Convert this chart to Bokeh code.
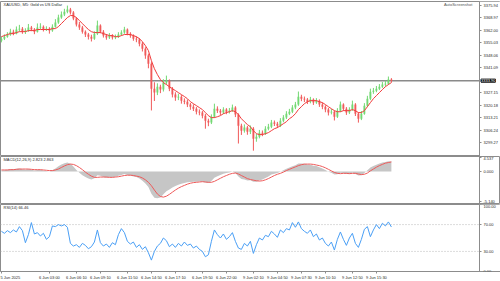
from bokeh.plotting import figure
from bokeh.layouts import column
from bokeh.models import (Range1d, FixedTicker, Label, Span, ColumnDataSource,
                          NumeralTickFormatter, BoxAnnotation)
from bokeh.embed import file_html
from bokeh.resources import INLINE

# ---------------- data ----------------
opens = [
    3356.2, 3357.4, 3358.5, 3359.7, 3361.3, 3360.2, 3362.5, 3363.0, 3361.3, 3361.9,
    3363.6, 3362.5, 3361.3, 3363.6, 3364.1, 3362.5, 3363.0, 3361.9, 3364.1, 3366.4,
    3369.2, 3370.9, 3372.5, 3373.7, 3372.0, 3368.6, 3365.3, 3363.6, 3361.3, 3359.7,
    3358.5, 3357.4, 3360.2, 3364.7, 3361.3, 3359.1, 3358.0, 3359.1, 3358.0, 3358.5,
    3359.7, 3360.8, 3362.5, 3360.2, 3359.1, 3357.4, 3356.9, 3354.6, 3351.8, 3347.9,
    3343.4, 3329.4, 3327.2, 3330.5, 3328.9, 3332.8, 3333.9, 3329.4, 3326.1, 3324.4,
    3324.9, 3322.7, 3322.1, 3320.5, 3319.3, 3318.2, 3316.5, 3316.0, 3314.3, 3311.5,
    3310.4, 3313.7, 3318.2, 3317.1, 3316.0, 3317.7, 3316.5, 3317.1, 3318.8, 3314.9,
    3308.7, 3305.9, 3307.6, 3305.3, 3307.0, 3301.4, 3302.5, 3304.8, 3304.2, 3307.0,
    3308.1, 3310.4, 3309.8, 3308.7, 3311.5, 3313.2, 3315.4, 3316.5, 3318.8, 3320.5,
    3324.9, 3323.8, 3323.3, 3322.1, 3323.3, 3321.6, 3322.7, 3320.5, 3319.3, 3317.7,
    3316.0, 3316.5, 3313.7, 3317.1, 3320.5, 3318.2, 3316.0, 3317.7, 3320.5, 3315.4,
    3312.6, 3315.4, 3319.9, 3323.8, 3327.7, 3328.3, 3329.4, 3330.5, 3331.7, 3332.2,
    3334.5,
]
closes = [
    3357.4, 3358.5, 3359.7, 3361.3, 3360.2, 3362.5, 3363.0, 3361.3, 3361.9, 3363.6,
    3362.5, 3361.3, 3363.6, 3364.1, 3362.5, 3363.0, 3361.9, 3364.1, 3366.4, 3369.2,
    3370.9, 3372.5, 3373.7, 3372.0, 3368.6, 3365.3, 3363.6, 3361.3, 3359.7, 3358.5,
    3357.4, 3360.2, 3364.7, 3361.3, 3359.1, 3358.0, 3359.1, 3358.0, 3358.5, 3359.7,
    3360.8, 3362.5, 3360.2, 3359.1, 3357.4, 3356.9, 3354.6, 3351.8, 3347.9, 3343.4,
    3329.4, 3327.2, 3330.5, 3328.9, 3332.8, 3333.9, 3329.4, 3326.1, 3324.4, 3324.9,
    3322.7, 3322.1, 3320.5, 3319.3, 3318.2, 3316.5, 3316.0, 3314.3, 3311.5, 3310.4,
    3313.7, 3318.2, 3317.1, 3316.0, 3317.7, 3316.5, 3317.1, 3318.8, 3314.9, 3308.7,
    3305.9, 3307.6, 3305.3, 3307.0, 3301.4, 3302.5, 3304.8, 3304.2, 3307.0, 3308.1,
    3310.4, 3309.8, 3308.7, 3311.5, 3313.2, 3315.4, 3316.5, 3318.8, 3320.5, 3324.9,
    3323.8, 3323.3, 3322.1, 3323.3, 3321.6, 3322.7, 3320.5, 3319.3, 3317.7, 3316.0,
    3316.5, 3313.7, 3317.1, 3320.5, 3318.2, 3316.0, 3317.7, 3320.5, 3315.4, 3312.6,
    3315.4, 3319.9, 3323.8, 3327.7, 3328.3, 3329.4, 3330.5, 3331.7, 3332.2, 3334.5,
    3333.9,
]
highs = [
    3358.6, 3359.8, 3361.0, 3362.9, 3362.4, 3364.2, 3365.1, 3363.9, 3363.2, 3365.6,
    3364.5, 3363.3, 3365.9, 3366.0, 3364.8, 3364.3, 3363.8, 3365.4, 3368.3, 3370.8,
    3372.6, 3374.1, 3375.9, 3374.6, 3372.8, 3369.4, 3366.7, 3364.5, 3362.0, 3360.6,
    3359.6, 3361.5, 3367.5, 3365.4, 3362.2, 3360.0, 3360.5, 3359.9, 3359.7, 3361.0,
    3362.1, 3364.0, 3363.1, 3361.0, 3359.8, 3358.6, 3357.7, 3355.5, 3352.6, 3349.0,
    3344.2, 3333.0, 3332.4, 3331.6, 3334.7, 3336.7, 3334.6, 3330.3, 3327.4, 3326.6,
    3325.8, 3324.0, 3323.3, 3321.4, 3320.6, 3319.1, 3317.8, 3316.9, 3315.2, 3312.6,
    3315.0, 3321.0, 3319.5, 3318.0, 3319.0, 3318.5, 3318.6, 3320.5, 3319.6, 3315.6,
    3309.8, 3309.4, 3308.5, 3308.8, 3307.9, 3304.0, 3306.3, 3306.0, 3308.4, 3309.7,
    3311.9, 3311.6, 3310.8, 3312.9, 3314.6, 3316.8, 3318.1, 3320.2, 3322.0, 3327.8,
    3326.0, 3325.0, 3324.2, 3324.8, 3324.0, 3324.1, 3323.4, 3321.6, 3320.1, 3318.6,
    3318.0, 3317.2, 3318.5, 3322.2, 3321.2, 3319.1, 3319.0, 3322.7, 3321.3, 3316.2,
    3316.9, 3321.3, 3325.4, 3329.4, 3329.8, 3330.9, 3332.0, 3333.1, 3333.8, 3336.2,
    3335.3,
]
lows = [
    3355.3, 3356.6, 3357.9, 3359.0, 3359.3, 3359.8, 3361.4, 3360.1, 3360.0, 3361.2,
    3361.6, 3359.9, 3360.8, 3362.7, 3361.4, 3361.7, 3360.2, 3361.2, 3363.5, 3365.7,
    3368.5, 3370.0, 3371.6, 3370.9, 3367.7, 3364.2, 3362.3, 3360.2, 3358.3, 3356.9,
    3355.8, 3356.7, 3359.4, 3360.4, 3358.0, 3356.8, 3357.2, 3356.9, 3357.1, 3357.8,
    3359.0, 3360.1, 3359.3, 3357.9, 3356.2, 3355.4, 3353.1, 3350.2, 3346.1, 3340.8,
    3317.2, 3322.5, 3325.8, 3326.9, 3327.8, 3331.6, 3328.0, 3324.5, 3322.6, 3323.0,
    3321.0, 3320.7, 3319.1, 3317.6, 3316.9, 3315.0, 3314.5, 3312.8, 3307.0, 3308.4,
    3309.6, 3313.0, 3315.8, 3314.6, 3315.2, 3315.1, 3315.5, 3316.4, 3313.5, 3298.7,
    3303.5, 3304.8, 3303.6, 3304.0, 3294.7, 3299.7, 3301.6, 3302.8, 3303.5, 3306.1,
    3307.3, 3308.5, 3307.4, 3307.9, 3310.6, 3312.4, 3314.6, 3315.7, 3317.9, 3319.8,
    3322.4, 3321.9, 3320.8, 3321.2, 3320.3, 3320.9, 3319.2, 3317.9, 3316.2, 3314.4,
    3315.0, 3311.6, 3313.0, 3316.3, 3317.0, 3314.7, 3315.2, 3317.0, 3314.1, 3310.4,
    3311.8, 3314.8, 3319.1, 3323.0, 3326.5, 3327.4, 3328.6, 3329.8, 3330.6, 3331.5,
    3332.8,
]
moving_avg = [
    3358.5, 3359.1, 3359.7, 3360.2, 3360.2, 3360.8, 3361.3, 3361.3, 3361.3, 3361.9,
    3361.9, 3361.9, 3362.5, 3362.5, 3362.5, 3362.5, 3362.5, 3363.0, 3363.0, 3364.1,
    3365.8, 3367.5, 3369.2, 3370.3, 3370.3, 3369.2, 3367.5, 3365.8, 3364.1, 3362.5,
    3361.3, 3360.8, 3360.8, 3360.8, 3360.2, 3359.7, 3359.1, 3359.1, 3358.5, 3358.5,
    3359.1, 3359.7, 3359.7, 3359.7, 3359.1, 3358.5, 3357.4, 3355.7, 3353.5, 3350.7,
    3345.1, 3340.6, 3337.3, 3334.5, 3332.8, 3331.7, 3330.5, 3329.4, 3328.3, 3327.2,
    3326.1, 3325.0, 3323.8, 3322.1, 3321.0, 3319.9, 3318.8, 3317.7, 3316.0, 3314.3,
    3313.2, 3313.2, 3313.7, 3314.3, 3315.4, 3316.0, 3316.5, 3317.1, 3316.5, 3314.9,
    3312.6, 3310.9, 3309.3, 3308.1, 3305.9, 3304.2, 3303.7, 3303.7, 3304.2, 3304.8,
    3305.9, 3307.0, 3307.6, 3308.7, 3309.8, 3310.9, 3312.6, 3313.7, 3315.4, 3317.7,
    3319.3, 3321.0, 3322.1, 3322.7, 3322.7, 3322.7, 3322.1, 3321.6, 3320.5, 3319.3,
    3318.2, 3317.1, 3316.5, 3316.5, 3317.1, 3317.1, 3317.1, 3317.7, 3317.1, 3316.0,
    3316.0, 3317.1, 3319.3, 3321.6, 3323.8, 3325.5, 3327.2, 3328.9, 3330.5, 3331.7,
    3332.8,
]
macd_main = [
    0.3, 0.4, 0.6, 0.8, 0.7, 0.9, 1.0, 0.7, 0.6, 0.8,
    0.6, 0.3, 0.5, 0.6, 0.3, 0.2, 0.0, 0.4, 1.0, 1.7,
    2.3, 2.7, 2.9, 2.5, 1.6, 0.5, -0.4, -1.2, -1.8, -2.3,
    -2.6, -2.2, -1.2, -1.4, -1.8, -2.0, -1.8, -1.9, -1.7, -1.4,
    -1.1, -0.8, -1.1, -1.3, -1.6, -1.8, -2.3, -3.0, -3.9, -5.0,
    -7.2, -8.5, -8.7, -8.4, -7.4, -6.4, -5.8, -5.2, -4.7, -4.3,
    -4.0, -3.7, -3.5, -3.4, -3.3, -3.3, -3.2, -3.3, -3.6, -3.7,
    -3.1, -2.0, -1.5, -1.1, -0.7, -0.5, -0.3, 0.0, -0.5, -1.6,
    -2.4, -2.6, -2.9, -2.8, -3.3, -3.3, -2.9, -2.6, -2.1, -1.6,
    -1.0, -0.7, -0.5, -0.1, 0.4, 0.9, 1.3, 1.7, 2.0, 2.6,
    2.6, 2.5, 2.3, 2.2, 1.9, 1.8, 1.4, 1.0, 0.5, -0.1,
    -0.4, -1.0, -0.9, -0.4, -0.5, -0.8, -0.8, -0.3, -0.8, -1.3,
    -1.2, -0.5, 0.4, 1.3, 1.8, 2.2, 2.6, 2.9, 3.1, 3.3,
    3.2,
]
macd_signal = [
    0.5, 0.5, 0.5, 0.6, 0.6, 0.7, 0.8, 0.8, 0.8, 0.8,
    0.7, 0.6, 0.6, 0.6, 0.5, 0.4, 0.3, 0.3, 0.5, 0.8,
    1.3, 1.8, 2.2, 2.4, 2.3, 1.9, 1.3, 0.6, -0.2, -0.9,
    -1.5, -1.9, -1.9, -1.8, -1.8, -1.8, -1.9, -1.9, -1.8, -1.7,
    -1.5, -1.3, -1.2, -1.2, -1.3, -1.5, -1.7, -2.1, -2.7, -3.5,
    -4.6, -6.0, -7.3, -8.1, -8.3, -8.0, -7.4, -6.7, -6.0, -5.4,
    -4.9, -4.5, -4.1, -3.8, -3.6, -3.5, -3.4, -3.3, -3.4, -3.5,
    -3.5, -3.2, -2.7, -2.2, -1.7, -1.3, -0.9, -0.6, -0.5, -0.8,
    -1.3, -1.8, -2.3, -2.6, -2.8, -3.0, -3.1, -3.0, -2.7, -2.3,
    -1.8, -1.3, -0.9, -0.6, -0.2, 0.3, 0.7, 1.1, 1.5, 1.9,
    2.2, 2.4, 2.4, 2.4, 2.3, 2.1, 1.9, 1.6, 1.2, 0.7,
    0.2, -0.3, -0.6, -0.7, -0.6, -0.6, -0.7, -0.6, -0.6, -0.8,
    -1.0, -0.9, -0.5, 0.2, 0.8, 1.4, 1.9, 2.3, 2.7, 2.9,
    3.1,
]
rsi_values = [
    60, 57, 61, 58, 62, 59, 67, 61, 43, 55,
    73, 56, 58, 53, 57, 48, 52, 68, 67, 70,
    68, 70, 66, 42, 38, 40, 36, 42, 39, 34,
    37, 44, 62, 43, 38, 41, 36, 43, 40, 55,
    64, 58, 45, 41, 44, 36, 40, 33, 37, 28,
    17, 30, 38, 42, 50, 46, 37, 41, 36, 42,
    38, 44, 39, 41, 35, 38, 33, 30, 22, 25,
    45, 62, 55, 50, 56, 48, 52, 58, 45, 35,
    33, 42, 38, 45, 27, 40, 50, 47, 54, 52,
    60, 56, 51, 62, 58, 64, 62, 73, 66, 74,
    64, 60, 57, 62, 52, 56, 47, 50, 42, 38,
    44, 32, 48, 59, 48, 39, 50, 57, 42, 36,
    48, 63, 67, 52, 62, 70, 64, 72, 68, 74,
    66.46,
]
price_ticks = [3375.94, 3368.97, 3362.00, 3355.03, 3348.06, 3341.09,
               3327.15, 3320.18, 3313.21, 3306.24, 3299.27]
rsi_ticks = [100, 70, 30, 0]
rsi_levels = [70, 30]
macd_tick_values = [4.537, 0.0, -9.72]
macd_tick_labels = ["4.537", "0.000", "-5.140"]
time_tick_pos = [0, 16, 25, 33, 42, 50, 58, 67, 75, 84, 92, 100, 108, 117, 125]
time_tick_labels = ["5 Jun 2025", "6 Jun 03:00", "6 Jun 06:10", "6 Jun 09:10",
                    "6 Jun 11:50", "6 Jun 14:50", "6 Jun 17:10", "6 Jun 19:50",
                    "6 Jun 22:00", "9 Jun 02:10", "9 Jun 04:50", "9 Jun 07:30",
                    "9 Jun 10:10", "9 Jun 12:50", "9 Jun 15:30"]
main_title = "XAUUSD, M5:  Gold vs US Dollar"
macd_title = "MACD(12,26,9) 2.823 2.863"
rsi_title = "RSI(14) 66.46"

# ---------------- styling ----------------
FONT = "Liberation Sans"
TXT = "#2a2a2a"
AX = "#8c8c8c"
UP = "#72d872"
DOWN = "#f05a5a"
FS = "4px"

n = len(closes)
xs = list(range(n))
x_range = Range1d(-0.3, 166.37)   # 3 px per bar over a 500 px wide frame
AXIS_X = 159.37                   # price scale line sits at x = 479 px


def base_fig(fh, y_range, top=0, bottom=0, xaxis=False):
    p = figure(frame_width=500, frame_height=fh, x_range=x_range, y_range=y_range,
               output_backend="svg", toolbar_location=None, y_axis_location="right",
               x_axis_location="below" if xaxis else None,
               min_border_left=0, min_border_right=0,
               min_border_top=top, min_border_bottom=bottom)
    p.xgrid.grid_line_color = None
    p.ygrid.grid_line_color = None
    p.outline_line_color = AX
    p.outline_line_width = 1
    p.background_fill_color = "white"
    p.border_fill_color = "white"
    ax = p.yaxis[0]
    ax.fixed_location = AXIS_X
    ax.axis_line_color = AX
    ax.major_tick_line_color = AX
    ax.major_tick_out = 2
    ax.major_tick_in = 0
    ax.minor_tick_line_color = None
    ax.major_label_text_font_size = FS
    ax.major_label_text_font = FONT
    ax.major_label_text_color = TXT
    ax.major_label_standoff = 2
    return p


def cover_scale(p):
    # keep horizontal reference lines out of the price-scale column
    p.add_layout(BoxAnnotation(left=AXIS_X, fill_color="white", fill_alpha=1.0,
                               line_color=None, level="underlay"))


def title_label(x, y, text, align="left", color=TXT):
    return Label(x=x, y=y, text=text, text_font=FONT, text_font_size=FS,
                 text_color=color, text_align=align, text_baseline="middle")


# ---------------- main price panel ----------------
main = base_fig(155, Range1d(3291.44, 3378.18), top=1)
main.add_layout(Span(location=closes[-1], dimension="width", level="underlay",
                     line_color="#8a8a8a", line_width=1.5))
cover_scale(main)
src = ColumnDataSource(dict(
    x=xs, h=highs, l=lows,
    top=[max(o, c) for o, c in zip(opens, closes)],
    bot=[min(o, c) for o, c in zip(opens, closes)],
    col=[UP if c >= o else DOWN for o, c in zip(opens, closes)],
))
main.segment(x0="x", y0="l", x1="x", y1="h", line_color="col", line_width=1, source=src)
main.vbar(x="x", width=0.62, top="top", bottom="bot", fill_color="col",
          line_color=None, source=src)
main.line(xs, moving_avg, line_color="#f03a3a", line_width=1)
main.yaxis.ticker = FixedTicker(ticks=price_ticks)
main.yaxis.formatter = NumeralTickFormatter(format="0.00")
main.add_layout(title_label(0.7, 3376.6, main_title))
main.add_layout(title_label(157.0, 3376.4, "AutoScreenshot", align="right", color="#555555"))
main.add_layout(Label(x=AXIS_X, y=closes[-1], x_offset=1.5, text=f"{closes[-1]:.2f}",
                      text_font=FONT, text_font_size=FS, text_color="white",
                      background_fill_color="black", border_line_color="black",
                      border_line_width=1, text_baseline="middle"))

# ---------------- MACD panel ----------------
macd = base_fig(48, Range1d(-10.69, 4.86))
macd.varea(x=xs, y1=[0] * n, y2=macd_main, fill_color="#c6c6c6")
macd.line(xs, macd_signal, line_color="#ee5a5a", line_width=1)
macd.yaxis.ticker = FixedTicker(ticks=macd_tick_values)
macd.yaxis.major_label_overrides = dict(zip(macd_tick_values, macd_tick_labels))
macd.add_layout(title_label(0.7, 3.9, macd_title))

# ---------------- RSI panel ----------------
rsi = base_fig(67, Range1d(0, 100), bottom=10, xaxis=True)
for lv in rsi_levels:
    rsi.add_layout(Span(location=lv, dimension="width", level="underlay",
                        line_color="#b8b8b8", line_width=1, line_dash="1 2"))
cover_scale(rsi)
rsi.line(xs, rsi_values, line_color="#4a9ff5", line_width=1)
rsi.yaxis.ticker = FixedTicker(ticks=rsi_ticks)
rsi.yaxis.formatter = NumeralTickFormatter(format="0.00")
rsi.add_layout(title_label(0.7, 95, rsi_title))
xa = rsi.xaxis[0]
xa.ticker = FixedTicker(ticks=time_tick_pos)
xa.major_label_overrides = dict(zip(time_tick_pos, time_tick_labels))
xa.major_label_text_align = "left"
xa.major_label_text_font = FONT
xa.major_label_text_font_size = FS
xa.major_label_text_color = TXT
xa.major_label_standoff = 1
xa.axis_line_color = AX
xa.major_tick_line_color = AX
xa.major_tick_out = 2
xa.major_tick_in = 0
xa.minor_tick_line_color = None

layout = column(main, macd, rsi, spacing=0)
open("out.html", "w").write(file_html(layout, INLINE))
